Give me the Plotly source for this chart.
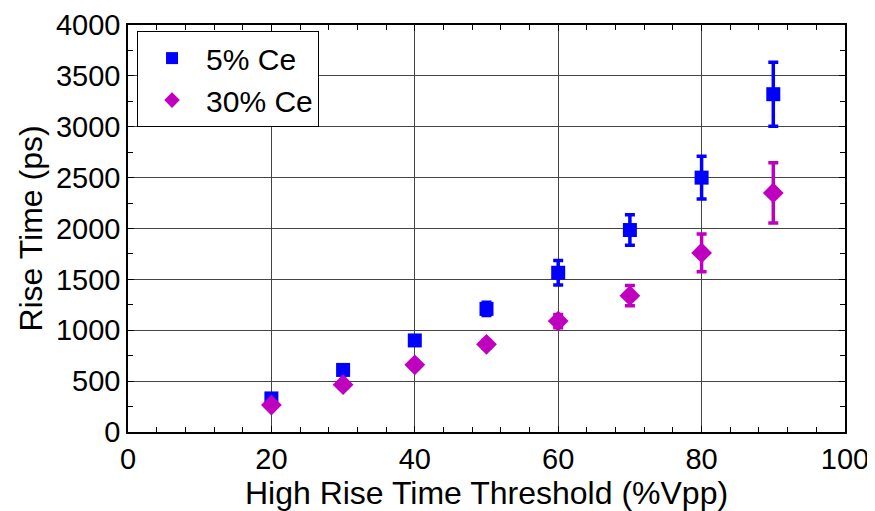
import plotly.graph_objects as go

thresholds = [20, 30, 40, 50, 60, 70, 80, 90]
rise_5 = [330, 610, 900, 1210, 1565, 1985, 2500, 3320]
err_5 = [25, 25, 45, 65, 120, 150, 210, 315]
rise_30 = [265, 465, 660, 862, 1090, 1340, 1760, 2350]
err_30 = [20, 25, 35, 40, 65, 100, 185, 295]

fig = go.Figure()
fig.add_trace(go.Scatter(
    x=thresholds, y=rise_5, mode="markers", name="5% Ce",
    marker=dict(symbol="square", size=14, color="#0000FF"),
    error_y=dict(type="data", array=err_5, color="#0000FF", thickness=3.5, width=5),
))
fig.add_trace(go.Scatter(
    x=thresholds, y=rise_30, mode="markers", name="30% Ce",
    marker=dict(symbol="diamond", size=16, color="#BF00BF"),
    error_y=dict(type="data", array=err_30, color="#BF00BF", thickness=3.5, width=5),
))

font = "Liberation Sans, Arial, sans-serif"
fig.update_layout(
    width=875, height=511,
    margin=dict(l=120, r=38, t=17, b=87),
    paper_bgcolor="white", plot_bgcolor="white",
    font=dict(family=font, size=29, color="black"),
    showlegend=True,
    legend=dict(x=0.0126, y=0.985, xanchor="left", yanchor="top",
                bgcolor="white", bordercolor="black", borderwidth=1,
                font=dict(size=30), itemsizing="constant", tracegroupgap=0,
                itemwidth=58),
    xaxis=dict(
        range=[0, 100], dtick=20, tick0=0, automargin=False,
        title=dict(text="High Rise Time Threshold (%Vpp)", standoff=0, font=dict(size=32)),
        showgrid=True, gridcolor="#444444", gridwidth=1,
        showline=True, linecolor="black", linewidth=1.5, mirror="ticks",
        ticks="inside", ticklen=6, tickcolor="black",
        minor=dict(dtick=4, ticks="inside", ticklen=5, tickcolor="black", showgrid=False),
        zeroline=False, tickfont=dict(size=29), ticklabeloverflow="allow",
    ),
    yaxis=dict(
        range=[0, 4000], dtick=500, tick0=0, automargin=False,
        title=dict(text="Rise Time (ps)", standoff=4, font=dict(size=32)),
        showgrid=True, gridcolor="#444444", gridwidth=1,
        showline=True, linecolor="black", linewidth=1.5, mirror="ticks",
        ticks="inside", ticklen=6, tickcolor="black",
        minor=dict(dtick=250, ticks="inside", ticklen=5, tickcolor="black", showgrid=False),
        zeroline=False, tickfont=dict(size=29), ticklabeloverflow="allow",
    ),
)

fig.write_html("out.html")
